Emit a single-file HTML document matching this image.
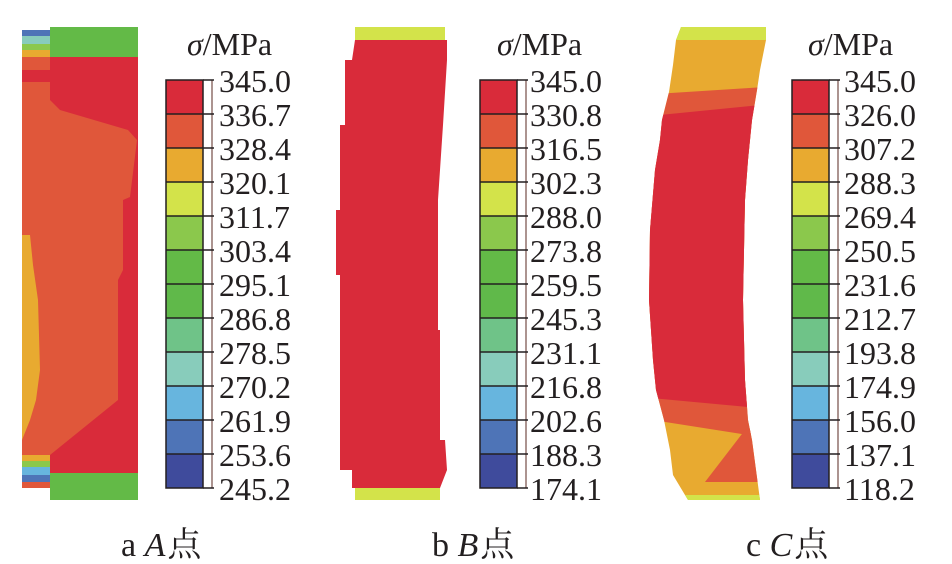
<!DOCTYPE html>
<html><head><meta charset="utf-8"><style>
html,body{margin:0;padding:0;background:#fff;}
svg{display:block;}
text{font-family:"Liberation Serif","Noto Serif CJK SC",serif;fill:#231f20;}
</style></head><body>
<svg width="952" height="564" viewBox="0 0 952 564" xmlns="http://www.w3.org/2000/svg">
<defs>
<g id="cb">
  <rect x="0" y="80" width="37" height="34" fill="#d92b3a"/>
  <rect x="0" y="114" width="37" height="34" fill="#e0573a"/>
  <rect x="0" y="148" width="37" height="34" fill="#e8aa30"/>
  <rect x="0" y="182" width="37" height="34" fill="#d3e34a"/>
  <rect x="0" y="216" width="37" height="34" fill="#8bc84c"/>
  <rect x="0" y="250" width="37" height="34" fill="#63ba47"/>
  <rect x="0" y="284" width="37" height="34" fill="#60b94a"/>
  <rect x="0" y="318" width="37" height="34" fill="#6fc388"/>
  <rect x="0" y="352" width="37" height="34" fill="#88ccbb"/>
  <rect x="0" y="386" width="37" height="34" fill="#67b5de"/>
  <rect x="0" y="420" width="37" height="34" fill="#4e74b7"/>
  <rect x="0" y="454" width="37" height="34" fill="#3f4b9c"/>
  <rect x="37" y="80" width="9" height="408" fill="#fff" stroke="#5a2a20" stroke-width="1"/>
  <rect x="0" y="80" width="37" height="408" fill="none" stroke="#231f20" stroke-width="1.5"/>
  <g stroke="#231f20" stroke-width="1.5">
   <line x1="37" y1="80" x2="48" y2="80"/><line x1="0" y1="114" x2="48" y2="114"/>
   <line x1="0" y1="148" x2="48" y2="148"/><line x1="0" y1="182" x2="48" y2="182"/>
   <line x1="0" y1="216" x2="48" y2="216"/><line x1="0" y1="250" x2="48" y2="250"/>
   <line x1="0" y1="284" x2="48" y2="284"/><line x1="0" y1="318" x2="48" y2="318"/>
   <line x1="0" y1="352" x2="48" y2="352"/><line x1="0" y1="386" x2="48" y2="386"/>
   <line x1="0" y1="420" x2="48" y2="420"/><line x1="0" y1="454" x2="48" y2="454"/>
   <line x1="37" y1="488" x2="48" y2="488"/>
  </g>
</g>
<clipPath id="cc"><polygon points="681,27 766,27 766,40 760,70 757,90 752,120 748,160 745,200 743,300 745,380 748,420 752,440 756,470 760,500 688,500 673,475 670,450 664,420 656,390 653,360 649,300 650,230 655,170 660,140 662,120 669,92 673,65 676,40"/></clipPath>
</defs>

<!-- Panel a -->
<rect x="22" y="57" width="116" height="431" fill="#e0573a"/>
<polygon points="22,70 50,70 50,57 138,57 138,473 50,473 50,455 118,400 118,280 123,270 123,200 130,197 137,140 128,130 60,110 50,100 50,82 22,82" fill="#d92b3a"/>
<polygon points="22,235 30,235 33,265 38,300 40,370 36,400 30,420 22,440" fill="#e8aa30"/>
<rect x="50" y="27" width="88" height="30" fill="#63ba47"/>
<rect x="50" y="473" width="88" height="27" fill="#63ba47"/>
<rect x="22" y="30" width="28" height="6" fill="#4e74b7"/>
<rect x="22" y="36" width="28" height="8" fill="#88ccbb"/>
<rect x="22" y="44" width="28" height="6" fill="#8bc84c"/>
<rect x="22" y="50" width="28" height="7" fill="#e8aa30"/>
<rect x="22" y="455" width="28" height="6" fill="#e8aa30"/>
<rect x="22" y="461" width="28" height="6" fill="#8bc84c"/>
<rect x="22" y="467" width="28" height="8" fill="#67b5de"/>
<rect x="22" y="475" width="28" height="7" fill="#4e74b7"/>

<use href="#cb" x="166"/>
<text x="187" y="55" font-size="32"><tspan font-style="italic">σ</tspan>/MPa</text>
<g font-size="32">
<text x="219" y="92">345.0</text><text x="219" y="126">336.7</text><text x="219" y="160">328.4</text>
<text x="219" y="194">320.1</text><text x="219" y="228">311.7</text><text x="219" y="262">303.4</text>
<text x="219" y="296">295.1</text><text x="219" y="330">286.8</text><text x="219" y="364">278.5</text>
<text x="219" y="398">270.2</text><text x="219" y="432">261.9</text><text x="219" y="466">253.6</text>
<text x="219" y="500">245.2</text>
</g>

<!-- Panel b -->
<polygon points="355,40 355,40 352,60 345,60 345,125 340,125 340,210 336,210 336,275 340,275 340,470 352,470 352,488 440,488 447,470 445,440 440,440 440,330 438,330 438,200 443,125 447,60 447,40" fill="#d92b3a"/>
<rect x="355" y="27" width="90" height="13" fill="#d3e34a"/>
<rect x="355" y="488" width="85" height="12" fill="#d3e34a"/>
<use href="#cb" x="480"/>
<text x="497" y="55" font-size="32"><tspan font-style="italic">σ</tspan>/MPa</text>
<g font-size="32">
<text x="530" y="92">345.0</text><text x="530" y="126">330.8</text><text x="530" y="160">316.5</text>
<text x="530" y="194">302.3</text><text x="530" y="228">288.0</text><text x="530" y="262">273.8</text>
<text x="530" y="296">259.5</text><text x="530" y="330">245.3</text><text x="530" y="364">231.1</text>
<text x="530" y="398">216.8</text><text x="530" y="432">202.6</text><text x="530" y="466">188.3</text>
<text x="530" y="500">174.1</text>
</g>

<!-- Panel c -->
<g clip-path="url(#cc)">
  <rect x="640" y="20" width="140" height="490" fill="#e8aa30"/>
  <polygon points="640,95 780,86 780,440 640,418" fill="#e0573a"/>
  <polygon points="640,117 780,103 780,410 640,397" fill="#d92b3a"/>
  <polygon points="745,430 705,482 780,482 780,420" fill="#e0573a"/>
  <rect x="640" y="20" width="140" height="20" fill="#d3e34a"/>
  <rect x="640" y="495" width="140" height="10" fill="#d3e34a"/>
</g>
<use href="#cb" x="792"/>
<text x="808" y="55" font-size="32"><tspan font-style="italic">σ</tspan>/MPa</text>
<g font-size="32">
<text x="844" y="92">345.0</text><text x="844" y="126">326.0</text><text x="844" y="160">307.2</text>
<text x="844" y="194">288.3</text><text x="844" y="228">269.4</text><text x="844" y="262">250.5</text>
<text x="844" y="296">231.6</text><text x="844" y="330">212.7</text><text x="844" y="364">193.8</text>
<text x="844" y="398">174.9</text><text x="844" y="432">156.0</text><text x="844" y="466">137.1</text>
<text x="844" y="500">118.2</text>
</g>

<!-- captions -->
<g font-size="34">
<text x="121" y="556">a  <tspan font-style="italic">A</tspan><tspan font-family="'Noto Serif CJK SC',serif" dx="2">点</tspan></text>
<text x="432" y="556">b  <tspan font-style="italic">B</tspan><tspan font-family="'Noto Serif CJK SC',serif" dx="2">点</tspan></text>
<text x="746" y="556">c  <tspan font-style="italic">C</tspan><tspan font-family="'Noto Serif CJK SC',serif" dx="2">点</tspan></text>
</g>
</svg>
</body></html>
